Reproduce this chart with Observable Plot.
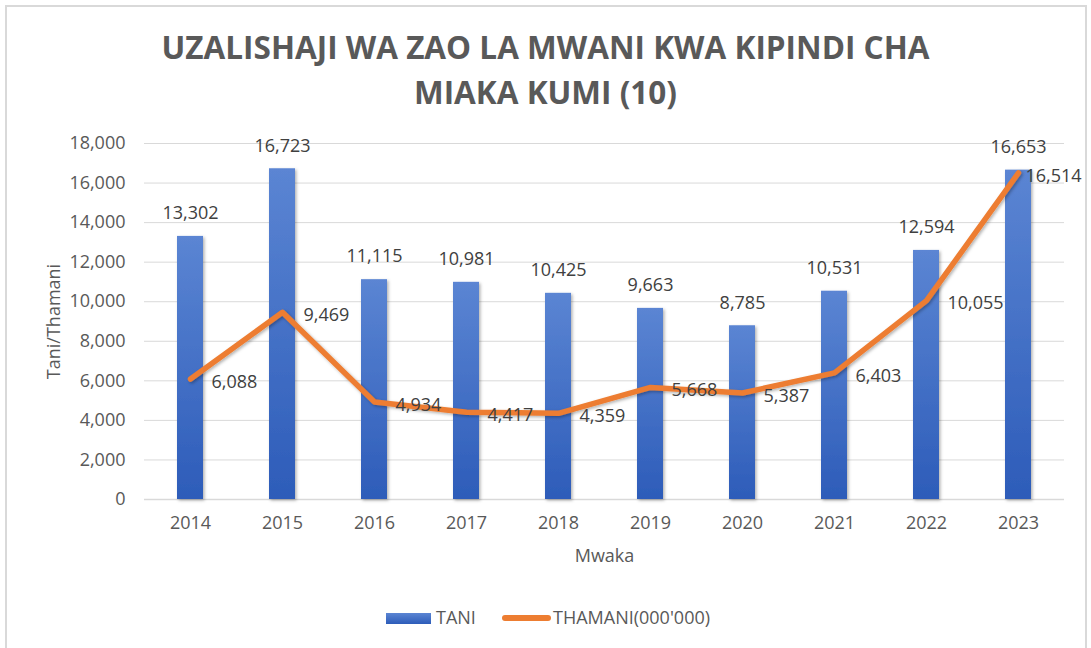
<!DOCTYPE html>
<html>
<head>
<meta charset="utf-8">
<script src="https://cdn.jsdelivr.net/npm/d3@7"></script>
<script src="https://cdn.jsdelivr.net/npm/@observablehq/plot@0.6"></script>
<style>
  html, body { margin: 0; padding: 0; background: #fff; width: 1091px; height: 648px; overflow: hidden; }
  #frame { position: absolute; left: 5px; top: 5px; width: 1082px; height: 700px; border: 2px solid #d9d9d9; box-sizing: border-box; }
  #title { position: absolute; left: 0; top: 24px; width: 1091px; text-align: center; font-family: "Open Sans", sans-serif; font-weight: 700; font-size: 31.5px; line-height: 45px; color: #595959; letter-spacing: 0; }
  #chart { position: absolute; left: 0; top: 0; }
  .leg { position: absolute; font-family: "Open Sans", sans-serif; font-size: 18px; color: #595959; line-height: 20px; }
</style>
</head>
<body>
<div id="frame"></div>
<div id="chart"></div>
<div id="title">UZALISHAJI WA ZAO LA MWANI KWA KIPINDI CHA<br>MIAKA KUMI (10)</div>
<div id="legend">
  <div style="position:absolute;left:386px;top:613px;width:45px;height:11px;background:linear-gradient(#5b85d3,#2d5cb9);"></div>
  <div class="leg" style="left:436px;top:607px;">TANI</div>
  <div style="position:absolute;left:502px;top:615px;width:49px;height:6px;border-radius:3px;background:#ed7d31;"></div>
  <div class="leg" style="left:553px;top:607px;">THAMANI(000'000)</div>
</div>
<script>
const years = ["2014","2015","2016","2017","2018","2019","2020","2021","2022","2023"];
const tani = [13302, 16723, 11115, 10981, 10425, 9663, 8785, 10531, 12594, 16653];
const thamani = [6088, 9469, 4934, 4417, 4359, 5668, 5387, 6403, 10055, 16514];
const yTicks = [0, 2000, 4000, 6000, 8000, 10000, 12000, 14000, 16000, 18000];

const rows = years.map((y, i) => ({year: y, tani: tani[i], thamani: thamani[i]}));
const fmt = d3.format(",");
const lastYear = years[years.length - 1];

const svg = Plot.plot({
  width: 1091,
  height: 648,
  marginTop: 143,
  marginBottom: 149,
  marginLeft: 144,
  marginRight: 27,
  style: {fontFamily: "Open Sans, sans-serif", fontSize: "17px", color: "#595959", background: "transparent", overflow: "visible"},
  x: {domain: years, type: "band", paddingInner: 0.717, paddingOuter: 0.3585, align: 0.5},
  y: {domain: [0, 18000]},
  marks: [
    Plot.gridY(yTicks, {stroke: "#d9d9d9", strokeOpacity: 1, strokeWidth: 1}),
    Plot.ruleY([0], {stroke: "#d9d9d9", strokeWidth: 1.5}),
    Plot.axisY(yTicks, {tickSize: 0, tickPadding: 19, tickFormat: fmt, fill: "#595959", fontSize: 18,
      label: "Tani/Thamani", labelAnchor: "center", labelOffset: 97, labelArrow: "none"}),
    Plot.axisX({tickSize: 0, tickPadding: 17, fill: "#595959", fontSize: 18,
      label: "Mwaka", labelAnchor: "center", labelOffset: 62, labelArrow: "none"}),
    Plot.barY(rows, {x: "year", y: "tani", fill: "url(#barGrad)", className: "bars"}),
    Plot.text(rows, {x: "year", y: "tani", text: d => fmt(d.tani), dy: -23, fill: "#404040", fontSize: 18}),
    Plot.line(rows, {x: "year", y: "thamani", stroke: "#ed7d31", strokeWidth: 5.5, strokeLinecap: "round", strokeLinejoin: "round", className: "valline"}),
    Plot.text(rows.filter(d => d.year !== lastYear), {x: "year", y: "thamani", text: d => fmt(d.thamani), textAnchor: "start", dx: 21, dy: 3, fill: "#404040", fontSize: 18}),
    Plot.text(rows.filter(d => d.year === lastYear), {x: "year", y: "thamani", text: d => fmt(d.thamani), textAnchor: "start", dx: 7, dy: 3, fill: "#404040", fontSize: 18})
  ]
});

const s = d3.select(svg);
const defs = s.insert("defs", ":first-child");
const g = defs.append("linearGradient").attr("id", "barGrad").attr("x1", 0).attr("y1", 0).attr("x2", 0).attr("y2", 1);
g.append("stop").attr("offset", "0%").attr("stop-color", "#5b85d3");
g.append("stop").attr("offset", "100%").attr("stop-color", "#2d5cb9");
const f = defs.append("filter").attr("id", "shadow").attr("x", "-50%").attr("y", "-50%").attr("width", "200%").attr("height", "200%");
f.append("feDropShadow").attr("dx", 1.5).attr("dy", 1.5).attr("stdDeviation", 1.8).attr("flood-color", "#000").attr("flood-opacity", 0.3);
s.selectAll(".bars rect").attr("filter", "url(#shadow)");
s.selectAll(".valline").attr("filter", "url(#shadow)");

document.getElementById("chart").appendChild(svg);
</script>
</body>
</html>
